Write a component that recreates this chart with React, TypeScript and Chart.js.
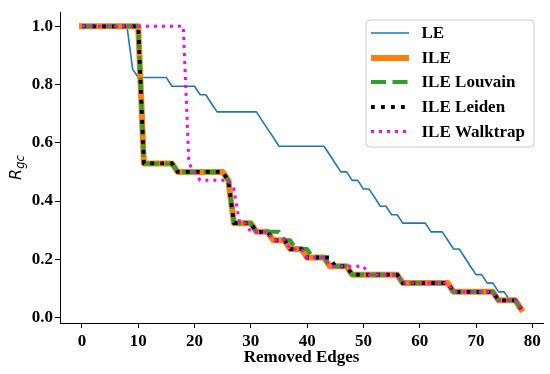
import React, { useEffect, useRef } from 'react';
import { Chart, registerables } from 'chart.js';

Chart.register(...registerables);

const removedEdges = [
  0, 1, 2, 3, 4, 5, 6, 7, 8, 9, 10, 11, 12, 13, 14, 15, 16, 17, 18, 19,
  20, 21, 22, 23, 24, 25, 26, 27, 28, 29, 30, 31, 32, 33, 34, 35, 36, 37, 38, 39,
  40, 41, 42, 43, 44, 45, 46, 47, 48, 49, 50, 51, 52, 53, 54, 55, 56, 57, 58, 59,
  60, 61, 62, 63, 64, 65, 66, 67, 68, 69, 70, 71, 72, 73, 74, 75, 76, 77, 78,
];

const seriesLE = [
  1, 1, 1, 1, 1, 1, 1, 1, 1, 0.853,
  0.824, 0.824, 0.824, 0.824, 0.824, 0.824, 0.794, 0.794, 0.794, 0.794,
  0.794, 0.765, 0.765, 0.735, 0.706, 0.706, 0.706, 0.706, 0.706, 0.706,
  0.706, 0.706, 0.676, 0.647, 0.618, 0.588, 0.588, 0.588, 0.588, 0.588,
  0.588, 0.588, 0.588, 0.588, 0.559, 0.529, 0.5, 0.5, 0.471, 0.471,
  0.441, 0.441, 0.412, 0.382, 0.382, 0.353, 0.353, 0.324, 0.324, 0.324,
  0.324, 0.324, 0.294, 0.294, 0.294, 0.265, 0.235, 0.235, 0.206, 0.176,
  0.147, 0.147, 0.118, 0.118, 0.088, 0.088, 0.059, 0.059, 0.029,
];

const seriesILE = [
  1, 1, 1, 1, 1, 1, 1, 1, 1, 1,
  1, 0.529, 0.529, 0.529, 0.529, 0.529, 0.529, 0.5, 0.5, 0.5,
  0.5, 0.5, 0.5, 0.5, 0.5, 0.5, 0.471, 0.324, 0.324, 0.324,
  0.324, 0.294, 0.294, 0.294, 0.265, 0.265, 0.265, 0.235, 0.235, 0.235,
  0.206, 0.206, 0.206, 0.206, 0.176, 0.176, 0.176, 0.176, 0.147, 0.147,
  0.147, 0.147, 0.147, 0.147, 0.147, 0.147, 0.147, 0.118, 0.118, 0.118,
  0.118, 0.118, 0.118, 0.118, 0.118, 0.118, 0.088, 0.088, 0.088, 0.088,
  0.088, 0.088, 0.088, 0.088, 0.059, 0.059, 0.059, 0.059, 0.029,
];

const seriesLouvain = [
  1, 1, 1, 1, 1, 1, 1, 1, 1, 1,
  1, 0.529, 0.529, 0.529, 0.529, 0.529, 0.529, 0.5, 0.5, 0.5,
  0.5, 0.5, 0.5, 0.5, 0.5, 0.5, 0.471, 0.324, 0.324, 0.324,
  0.324, 0.294, 0.294, 0.294, 0.294, 0.294, 0.265, 0.265, 0.235, 0.235,
  0.235, 0.206, 0.206, 0.206, 0.176, 0.176, 0.176, 0.176, 0.147, 0.147,
  0.147, 0.147, 0.147, 0.147, 0.147, 0.147, 0.147, 0.118, 0.118, 0.118,
  0.118, 0.118, 0.118, 0.118, 0.118, 0.118, 0.088, 0.088, 0.088, 0.088,
  0.088, 0.088, 0.088, 0.088, 0.059, 0.059, 0.059, 0.059, 0.029,
];

const seriesLeiden = [
  1, 1, 1, 1, 1, 1, 1, 1, 1, 1,
  1, 0.529, 0.529, 0.529, 0.529, 0.529, 0.529, 0.5, 0.5, 0.5,
  0.5, 0.5, 0.5, 0.5, 0.5, 0.5, 0.471, 0.324, 0.324, 0.324,
  0.324, 0.294, 0.294, 0.294, 0.265, 0.265, 0.265, 0.235, 0.235, 0.235,
  0.206, 0.206, 0.206, 0.206, 0.206, 0.176, 0.176, 0.176, 0.147, 0.147,
  0.147, 0.147, 0.147, 0.147, 0.147, 0.147, 0.147, 0.118, 0.118, 0.118,
  0.118, 0.118, 0.118, 0.118, 0.118, 0.118, 0.088, 0.088, 0.088, 0.088,
  0.088, 0.088, 0.088, 0.088, 0.059, 0.059, 0.059, 0.059, 0.029,
];

const seriesWalktrap = [
  1, 1, 1, 1, 1, 1, 1, 1, 1, 1,
  1, 1, 1, 1, 1, 1, 1, 1, 1, 0.529,
  0.5, 0.471, 0.471, 0.471, 0.471, 0.471, 0.471, 0.441, 0.324, 0.324,
  0.294, 0.294, 0.294, 0.294, 0.265, 0.265, 0.265, 0.235, 0.235, 0.235,
  0.206, 0.206, 0.206, 0.206, 0.176, 0.176, 0.176, 0.176, 0.176, 0.176,
  0.176, 0.147, 0.147, 0.147, 0.147, 0.147, 0.147, 0.118, 0.118, 0.118,
  0.118, 0.118, 0.118, 0.118, 0.118, 0.118, 0.088, 0.088, 0.088, 0.088,
  0.088, 0.088, 0.088, 0.088, 0.059, 0.059, 0.059, 0.059, 0.029,
];

const seriesLabels = ['LE', 'ILE', 'ILE Louvain', 'ILE Leiden', 'ILE Walktrap'];
const xTitle = 'Removed Edges';
const yTitleMain = 'R';
const yTitleSub = 'gc';

const SERIF = "'Liberation Serif', 'Times New Roman', serif";

export default function App() {
  const ref = useRef<HTMLCanvasElement>(null);

  useEffect(() => {
    document.body.style.margin = '0';
    const canvas = ref.current;
    if (!canvas) return;

    const mk = (
      label: string,
      values: number[],
      color: string,
      width: number,
      dash: number[],
      order: number,
      cap: CanvasLineCap,
    ) => ({
      label,
      data: removedEdges.map((x, i) => ({ x, y: values[i] })),
      borderColor: color,
      backgroundColor: color,
      borderWidth: width,
      borderDash: dash,
      borderCapStyle: cap,
      borderJoinStyle: 'round' as CanvasLineJoin,
      pointRadius: 0,
      pointHoverRadius: 0,
      tension: 0,
      fill: false,
      order,
    });

    const datasets = [
      mk(seriesLabels[0], seriesLE, '#1f77b4', 1.6, [], 5, 'butt'),
      mk(seriesLabels[1], seriesILE, '#ff7f0e', 6, [], 4, 'square'),
      mk(seriesLabels[2], seriesLouvain, '#2ca02c', 4, [15, 6.5], 3, 'butt'),
      mk(seriesLabels[3], seriesLeiden, '#000000', 3.8, [3.8, 6.2], 2, 'butt'),
      mk(seriesLabels[4], seriesWalktrap, '#ff00ff', 3, [3, 5], 1, 'butt'),
    ];

    const decorations = {
      id: 'decorations',
      afterDraw(chart: any) {
        const c = chart.ctx as CanvasRenderingContext2D;
        const area = chart.chartArea;
        c.save();
        // x title
        c.fillStyle = '#000';
        c.font = `bold 17px ${SERIF}`;
        c.textAlign = 'center';
        c.textBaseline = 'middle';
        c.fillText(xTitle, (area.left + area.right) / 2, 358);

        // y title (rotated, with subscript)
        c.save();
        c.translate(20.5, (area.top + area.bottom) / 2);
        c.rotate(-Math.PI / 2);
        c.textAlign = 'left';
        c.textBaseline = 'alphabetic';
        c.font = "oblique 16px 'DejaVu Sans', sans-serif";
        const wR = c.measureText(yTitleMain).width;
        c.font = "oblique 11.5px 'DejaVu Sans', sans-serif";
        const wS = c.measureText(yTitleSub).width;
        const start = -(wR + wS) / 2;
        c.font = "oblique 16px 'DejaVu Sans', sans-serif";
        c.fillText(yTitleMain, start, 0);
        c.font = "oblique 11.5px 'DejaVu Sans', sans-serif";
        c.fillText(yTitleSub, start + wR, 3);
        c.restore();

        // legend
        const bx = 366, by = 20, bw = 168, bh = 127, r = 4;
        c.beginPath();
        c.moveTo(bx + r, by);
        c.lineTo(bx + bw - r, by);
        c.arcTo(bx + bw, by, bx + bw, by + r, r);
        c.lineTo(bx + bw, by + bh - r);
        c.arcTo(bx + bw, by + bh, bx + bw - r, by + bh, r);
        c.lineTo(bx + r, by + bh);
        c.arcTo(bx, by + bh, bx, by + bh - r, r);
        c.lineTo(bx, by + r);
        c.arcTo(bx, by, bx + r, by, r);
        c.closePath();
        c.fillStyle = 'rgba(255,255,255,0.8)';
        c.fill();
        c.strokeStyle = '#cccccc';
        c.lineWidth = 1;
        c.stroke();

        const rowY = [33, 58, 82, 107, 131.5];
        chart.data.datasets.forEach((ds: any, i: number) => {
          const y = rowY[i];
          c.beginPath();
          c.strokeStyle = ds.borderColor;
          c.lineWidth = ds.borderWidth;
          c.setLineDash(ds.borderDash || []);
          c.lineCap = ds.borderCapStyle === 'square' ? 'butt' : ds.borderCapStyle;
          c.moveTo(371, y);
          c.lineTo(409, y);
          c.stroke();
          c.setLineDash([]);
          c.fillStyle = '#000';
          c.font = `bold 17px ${SERIF}`;
          c.textAlign = 'left';
          c.textBaseline = 'middle';
          c.fillText(ds.label, 421.5, y + 1);
        });
        c.restore();
      },
    };

    const tickFont = { family: SERIF, size: 17, weight: 'bold' as const };

    const chart = new Chart(canvas, {
      type: 'line',
      data: { datasets: datasets as any },
      options: {
        animation: false,
        responsive: false,
        devicePixelRatio: 1,
        events: [],
        layout: { padding: { top: 11, right: 7, left: 0, bottom: 0 } },
        plugins: { legend: { display: false }, tooltip: { enabled: false } },
        scales: {
          x: {
            type: 'linear',
            min: -3.9,
            max: 81.9,
            afterFit: (s: any) => {
              s.height = 51;
            },
            ticks: {
              stepSize: 10,
              includeBounds: false,
              color: '#000',
              font: tickFont,
              padding: 3,
              maxRotation: 0,
            },
            grid: {
              display: true,
              drawOnChartArea: false,
              drawTicks: true,
              tickLength: 5,
              color: '#000',
              tickColor: '#000',
            },
            border: { display: true, color: '#000', width: 1 },
          },
          y: {
            type: 'linear',
            min: -0.019,
            max: 1.0485,
            afterFit: (s: any) => {
              s.width = 60;
            },
            ticks: {
              stepSize: 0.2,
              includeBounds: false,
              color: '#000',
              font: tickFont,
              padding: 2,
              callback: (v: any) => Number(v).toFixed(1),
            },
            grid: {
              display: true,
              drawOnChartArea: false,
              drawTicks: true,
              tickLength: 5,
              color: '#000',
              tickColor: '#000',
            },
            border: { display: true, color: '#000', width: 1 },
          },
        },
      },
      plugins: [decorations],
    });

    return () => chart.destroy();
  }, []);

  return (
    <div style={{ width: 550, height: 374 }}>
      <canvas ref={ref} width={550} height={374} style={{ display: 'block' }} />
    </div>
  );
}
